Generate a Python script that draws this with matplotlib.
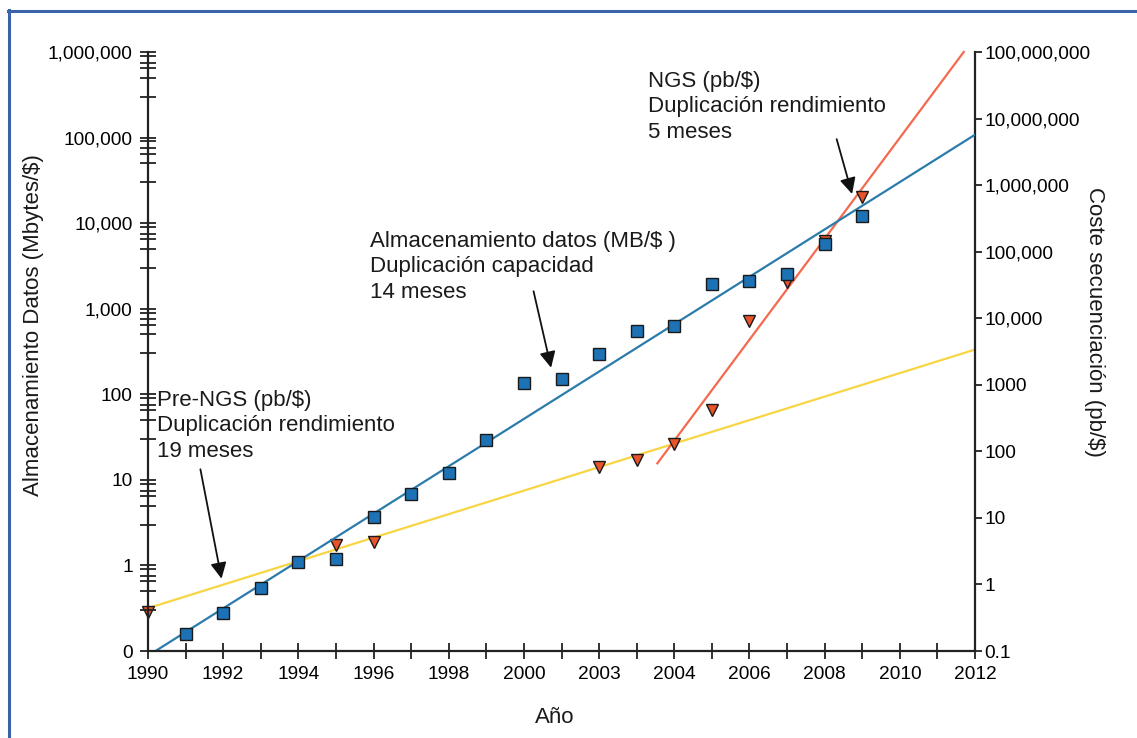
import matplotlib.pyplot as plt
from matplotlib.ticker import LogLocator, NullFormatter
from matplotlib.lines import Line2D

plt.rcParams['font.family'] = ['Liberation Sans', 'DejaVu Sans']

# almacenamiento de datos, MB por dolar (eje izquierdo)
storage_years = [1991, 1992, 1993, 1994, 1995, 1996, 1997, 1998, 1999, 2000,
                 2001, 2002, 2003, 2004, 2005, 2006, 2007, 2008, 2009]
storage_mb = [0.16, 0.275, 0.55, 1.11, 1.2, 3.7, 6.9, 11.9, 29, 137,
              149, 292, 556, 633, 1960, 2090, 2520, 5780, 12000]

# coste de secuenciacion, pb por dolar (eje derecho)
seq_years = [1990, 1995, 1996, 2002, 2003, 2004, 2005, 2006, 2007, 2008, 2009]
seq_pb = [0.39, 3.85, 4.3, 59, 75, 131, 424, 9200, 35000, 146000, 670000]

# rectas de ajuste (extremos)
storage_fit_x = [1990.2, 2012]
storage_fit_y = [0.1, 1.08e5]
prengs_fit_x = [1990, 2012]
prengs_fit_y = [0.44, 3380]
ngs_fit_x = [2003.55, 2011.7]
ngs_fit_y = [66, 1e8]

year_ticks = list(range(1990, 2013, 2))
year_labels = ['1990', '1992', '1994', '1996', '1998', '2000',
               '2003', '2004', '2006', '2008', '2010', '2012']
left_ticks = [0.1, 1, 10, 100, 1e3, 1e4, 1e5, 1e6]
left_labels = ['0', '1', '10', '100', '1,000', '10,000', '100,000', '1,000,000']
right_ticks = [0.1, 1, 10, 100, 1e3, 1e4, 1e5, 1e6, 1e7, 1e8]
right_labels = ['0.1', '1', '10', '100', '1000', '10,000', '100,000',
                '1,000,000', '10,000,000', '100,000,000']

fig = plt.figure(figsize=(11.37, 7.38), dpi=100)
ax = fig.add_axes([148/1137, 1-651/738, 827/1137, 599/738])
ax2 = ax.twinx()

ax.set_yscale('log')
ax2.set_yscale('log')
ax.set_xlim(1990, 2012)
ax.set_ylim(0.1, 1e6)
ax2.set_ylim(0.1, 1e8)

spine_col = '#222222'
for a in (ax, ax2):
    a.spines['top'].set_visible(False)
    for s in a.spines.values():
        s.set_color(spine_col)
        s.set_linewidth(1.6)
ax.spines['right'].set_visible(False)
ax2.spines['left'].set_visible(False)
ax2.spines['bottom'].set_visible(False)

tick_fs = 13.8

ax.set_xticks(year_ticks)
ax.set_xticklabels(year_labels)
ax.set_xticks(range(1991, 2012, 2), minor=True)
ax.tick_params(axis='x', which='both', direction='inout', length=11, width=1.3,
               color=spine_col, labelsize=tick_fs, pad=5)

ax.set_yticks(left_ticks)
ax.set_yticklabels(left_labels)
ax.yaxis.set_minor_locator(LogLocator(base=10, subs=[3, 5, 6.5, 7.5, 9]))
ax.yaxis.set_minor_formatter(NullFormatter())
ax.tick_params(axis='y', which='major', direction='inout', length=12, width=1.3,
               color=spine_col, labelsize=tick_fs, pad=5)
ax.tick_params(axis='y', which='minor', direction='inout', length=11, width=1.3,
               color=spine_col)

ax2.set_yticks(right_ticks)
ax2.set_yticklabels(right_labels)
ax2.yaxis.set_minor_locator(plt.NullLocator())
ax2.tick_params(axis='y', which='major', direction='out', length=5, width=1.3,
                color=spine_col, labelsize=tick_fs, pad=2)

# rectas de ajuste
ax.plot(storage_fit_x, storage_fit_y, color='#2b7bab', lw=1.6, zorder=2)
ax2.plot(prengs_fit_x, prengs_fit_y, color='#f7d543', lw=1.6, zorder=2)
ax2.plot(ngs_fit_x, ngs_fit_y, color='#f36a4f', lw=1.6, zorder=2, clip_on=False)

# puntos
ax.plot(storage_years, storage_mb, 's', ms=8.5, mfc='#1c72b4', mec='#1a1a1a',
        mew=1.0, zorder=3, clip_on=False)
ax2.plot(seq_years, seq_pb, 'v', ms=8.5, mfc='#e8532c', mec='#1a1a1a',
         mew=1.0, zorder=4, clip_on=False)

ax.set_zorder(ax2.get_zorder() + 1)
ax.patch.set_visible(False)

txt_kw = dict(fontsize=16, ha='left', va='top', linespacing=1.27, color='#1a1a1a')
ax.text(1990.24, 112, 'Pre-NGS (pb/$)\nDuplicación rendimiento\n19 meses', **txt_kw)
ax.text(1995.9, 8090, 'Almacenamiento datos (MB/$ )\nDuplicación capacidad\n14 meses', **txt_kw)
ax.text(2003.3, 5.97e5, 'NGS (pb/$)\nDuplicación rendimiento\n5 meses', **txt_kw)

arrow_kw = dict(arrowstyle='-|>', color='#111111', lw=1.3, mutation_scale=24)
ax.annotate('', xy=(1991.97, 0.65), xytext=(1991.38, 14.3), arrowprops=arrow_kw)
ax.annotate('', xy=(2000.74, 190), xytext=(2000.24, 1720), arrowprops=arrow_kw)
ax.annotate('', xy=(2008.75, 20400), xytext=(2008.3, 1.03e5), arrowprops=arrow_kw)

ax.set_xlabel('Año', fontsize=16, color='#1a1a1a')
ax.xaxis.set_label_coords(0.492, -0.0935)
ax.set_ylabel('Almacenamiento Datos (Mbytes/$)', fontsize=16, color='#1a1a1a')
ax.yaxis.set_label_coords(-0.126, 0.544)
ax2.set_ylabel('Coste secuenciación (pb/$)', fontsize=16, color='#1a1a1a',
               rotation=270, va='center')
ax2.yaxis.set_label_coords(1.145, 0.549)

# marco exterior
frame_col = '#3a63aa'
fig.add_artist(Line2D([9/1137, 9/1137], [0, 1-10/738], color=frame_col, lw=2.2))
fig.add_artist(Line2D([8/1137, 1], [1-11/738, 1-11/738], color=frame_col, lw=2.2))

fig.savefig('out.png', dpi=100)
